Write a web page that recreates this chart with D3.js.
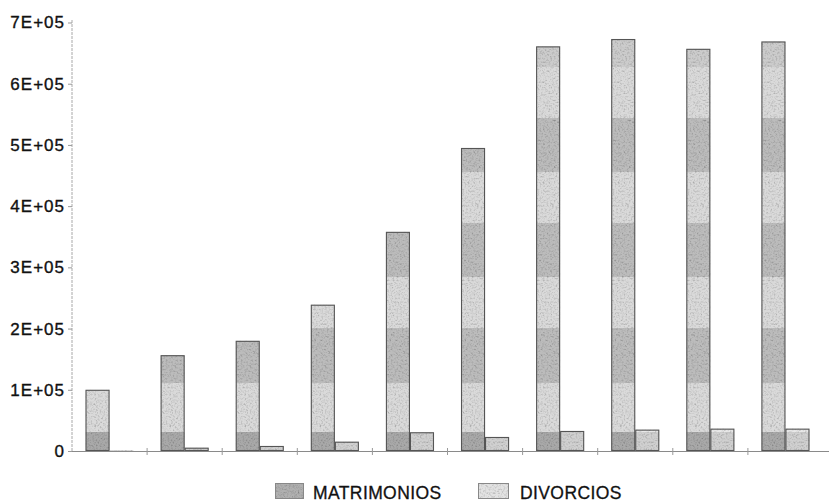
<!DOCTYPE html>
<html>
<head>
<meta charset="utf-8">
<script src="https://cdn.jsdelivr.net/npm/d3@7"></script>
<style>
  html, body { margin: 0; padding: 0; background: #fff; }
  svg { display: block; }
  text { font-family: "Liberation Sans", Arial, sans-serif; fill: #111; }
</style>
</head>
<body>
<svg id="chart" width="829" height="504"></svg>
<script>
// ---- data ----
const categories = ["1", "2", "3", "4", "5", "6", "7", "8", "9", "10"];
const seriesNames = ["MATRIMONIOS", "DIVORCIOS"];
const matrimonios = [100000, 156500, 180000, 239000, 358000, 495000, 661000, 673000, 657000, 669000];
const divorcios = [1500, 5400, 8200, 15200, 30600, 22900, 32700, 34900, 36500, 36500];
const yTicks = [0, 100000, 200000, 300000, 400000, 500000, 600000, 700000];
const yTickLabels = ["0", "1E+05", "2E+05", "3E+05", "4E+05", "5E+05", "6E+05", "7E+05"];

// ---- layout ----
const W = 829, H = 504;
const x0 = 72, x1 = 823, yBase = 451, yTop = 22.5;
const svg = d3.select("#chart");

const x = d3.scaleBand().domain(categories).range([x0, x1]).paddingInner(0.36).paddingOuter(0.18);
const xs = d3.scaleBand().domain(seriesNames).range([0, x.bandwidth()]);
const y = d3.scaleLinear().domain([0, 700000]).range([yBase, yTop]);

const defs = svg.append("defs");
// scan-like horizontal bands (user space)
function bandGradient(id, dark, light, mid, bottom) {
  const g = defs.append("linearGradient").attr("id", id)
    .attr("gradientUnits", "userSpaceOnUse").attr("x1", 0).attr("x2", 0).attr("y1", 0).attr("y2", H);
  const bands = [
    [0, 67, mid], [67, 118, light], [118, 172, dark], [172, 223, light],
    [223, 277, dark], [277, 328, light], [328, 383, dark], [383, 432, light], [432, 460, bottom]
  ];
  bands.forEach(([a, b, c]) => {
    g.append("stop").attr("offset", a / H).attr("stop-color", c);
    g.append("stop").attr("offset", b / H).attr("stop-color", c);
  });
}
bandGradient("gM", "#bcbcbc", "#dadada", "#cccccc", "#a9a9a9");
bandGradient("gD", "#d2d2d2", "#e8e8e8", "#dedede", "#d0d0d0");

const f = defs.append("filter").attr("id", "grain").attr("x", 0).attr("y", 0).attr("width", 1).attr("height", 1);
f.append("feTurbulence").attr("type", "fractalNoise").attr("baseFrequency", 0.55).attr("numOctaves", 2).attr("seed", 4).attr("result", "noise");
f.append("feColorMatrix").attr("in", "noise").attr("type", "matrix")
  .attr("values", "0.5 0.5 0.5 0 0.2  0.5 0.5 0.5 0 0.2  0.5 0.5 0.5 0 0.2  0 0 0 0 1").attr("result", "gnoise");
f.append("feBlend").attr("in", "SourceGraphic").attr("in2", "gnoise").attr("mode", "multiply").attr("result", "bl");
f.append("feComposite").attr("in", "bl").attr("in2", "SourceGraphic").attr("operator", "in");

const fills = { MATRIMONIOS: "url(#gM)", DIVORCIOS: "url(#gD)" };
const values = { MATRIMONIOS: matrimonios, DIVORCIOS: divorcios };

// ---- y axis ----
const yAxis = d3.axisLeft(y).tickValues(yTicks).tickFormat((d, i) => yTickLabels[i]).tickSize(4).tickPadding(3);
const gy = svg.append("g").attr("transform", `translate(${x0},0)`).call(yAxis);
gy.select(".domain").attr("stroke", "#a8a8a8").attr("stroke-dasharray", "3,1").attr("d", `M0,${yBase}V${yTop - 3}`);
gy.selectAll(".tick line").attr("stroke", "#999");
gy.selectAll(".tick text").attr("font-size", 17).attr("letter-spacing", "1px").attr("fill", "#111")
  .attr("stroke", "#111").attr("stroke-width", 0.35)
  .attr("font-family", "'Liberation Sans', Arial, sans-serif");

// ---- bars ----
const groups = svg.append("g").selectAll("g").data(categories).join("g")
  .attr("transform", d => `translate(${x(d)},0)`);
groups.selectAll("rect").data((d, i) => seriesNames.map(s => ({ s, v: values[s][i] }))).join("rect")
  .attr("x", d => xs(d.s))
  .attr("y", d => y(d.v))
  .attr("width", xs.bandwidth())
  .attr("height", d => yBase - y(d.v))
  .attr("fill", d => fills[d.s])
  .attr("filter", "url(#grain)");
groups.selectAll("rect.edge").data((d, i) => seriesNames.map(s => ({ s, v: values[s][i] }))).join("rect")
  .attr("class", "edge")
  .attr("x", d => xs(d.s) + 0.5)
  .attr("y", d => y(d.v) + 0.5)
  .attr("width", xs.bandwidth() - 1)
  .attr("height", d => Math.max(0, yBase - y(d.v) - 1))
  .attr("fill", "none").attr("stroke", "#555").attr("stroke-width", 1.1);

// ---- x axis ----
const xAxisG = svg.append("g");
xAxisG.append("line").attr("x1", x0).attr("x2", W).attr("y1", yBase + 0.5).attr("y2", yBase + 0.5)
  .attr("stroke", "#8a8a8a").attr("stroke-width", 1.2);
const step = x.step();
xAxisG.selectAll("line.tk").data(categories.slice(1)).join("line").attr("class", "tk")
  .attr("x1", d => x(d) - x.paddingInner() * step / 2).attr("x2", d => x(d) - x.paddingInner() * step / 2)
  .attr("y1", yBase - 3).attr("y2", yBase + 4).attr("stroke", "#999");

// ---- legend ----
const legend = svg.append("g");
const legendItems = [
  { s: "MATRIMONIOS", sx: 275, sw: 29, tx: 313, fill: "#b0b0b0" },
  { s: "DIVORCIOS", sx: 478, sw: 31, tx: 520, fill: "#e2e2e2" }
];
legendItems.forEach(it => {
  legend.append("rect").attr("x", it.sx).attr("y", 483).attr("width", it.sw).attr("height", 16)
    .attr("fill", it.fill).attr("filter", "url(#grain)");
  legend.append("rect").attr("x", it.sx + 0.5).attr("y", 483.5).attr("width", it.sw - 1).attr("height", 15)
    .attr("fill", "none").attr("stroke", "#888").attr("stroke-width", 1);
  legend.append("text").attr("x", it.tx).attr("y", 499).attr("font-size", 17.5).attr("letter-spacing", "0.4px")
    .attr("stroke", "#111").attr("stroke-width", 0.3)
    .text(it.s);
});
</script>
</body>
</html>
